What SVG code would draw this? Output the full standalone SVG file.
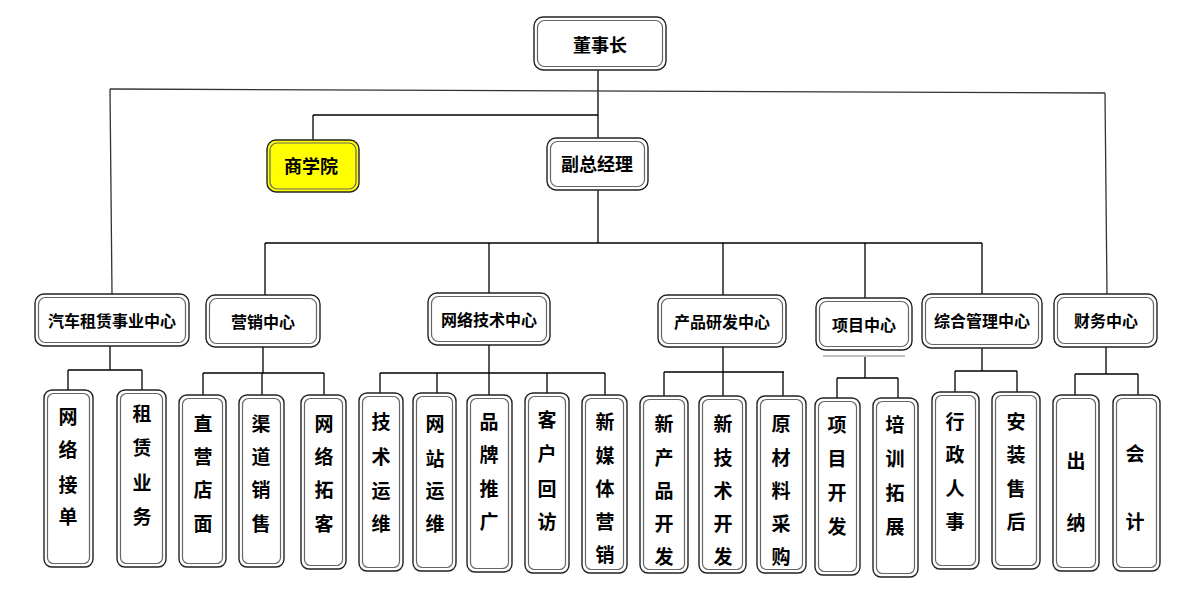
<svg xmlns="http://www.w3.org/2000/svg" width="1200" height="597" viewBox="0 0 1200 597">
<style>
.o{fill:#fff;stroke:#222;stroke-width:1.4}
.i{fill:none;stroke:#666;stroke-width:1.2}
.y{fill:#ffff00}
.c line{stroke:#000;stroke-width:1.3}
text{font-family:"Noto Sans CJK SC","Noto Sans",sans-serif;fill:#000;text-anchor:middle;dominant-baseline:central}
.t1{font-size:18px;font-weight:bold}
.t2{font-size:16px;font-weight:bold}
.t3{font-size:19px;font-weight:bold}
</style>
<rect width="1200" height="597" fill="#fff"/>
<g class="c" id="connectors">
<line x1="598" y1="70" x2="598" y2="138"/>
<line x1="110" y1="89" x2="1105" y2="93" style="stroke:#333"/>
<line x1="110" y1="89" x2="112" y2="294" style="stroke:#333"/>
<line x1="1105" y1="93" x2="1107" y2="294" style="stroke:#333"/>
<line x1="313" y1="115" x2="598" y2="115"/>
<line x1="313" y1="115" x2="313" y2="140"/>
<line x1="598" y1="190" x2="598" y2="243"/>
<line x1="265" y1="243" x2="982" y2="243"/>
<line x1="265" y1="243" x2="265" y2="295"/>
<line x1="489" y1="243" x2="489" y2="293"/>
<line x1="723" y1="243" x2="723" y2="295"/>
<line x1="865" y1="243" x2="865" y2="298"/>
<line x1="982" y1="243" x2="982" y2="294"/>
<line x1="823" y1="356" x2="905" y2="356" style="stroke:#aaa"/>
<line x1="110" y1="346" x2="110" y2="370"/>
<line x1="68" y1="370" x2="142" y2="370"/>
<line x1="68" y1="370" x2="68" y2="390"/>
<line x1="142" y1="370" x2="142" y2="390"/>
<line x1="263" y1="347" x2="263" y2="373"/>
<line x1="203" y1="373" x2="324" y2="373"/>
<line x1="203" y1="373" x2="203" y2="395"/>
<line x1="262" y1="373" x2="262" y2="395"/>
<line x1="324" y1="373" x2="324" y2="395"/>
<line x1="489" y1="345" x2="489" y2="395"/>
<line x1="380" y1="373" x2="605" y2="373"/>
<line x1="380" y1="373" x2="380" y2="393"/>
<line x1="437" y1="373" x2="437" y2="393"/>
<line x1="547" y1="373" x2="547" y2="393"/>
<line x1="605" y1="373" x2="605" y2="395"/>
<line x1="723" y1="347" x2="723" y2="396"/>
<line x1="664" y1="372" x2="784" y2="372"/>
<line x1="664" y1="372" x2="664" y2="396"/>
<line x1="783" y1="372" x2="783" y2="396"/>
<line x1="865" y1="357" x2="865" y2="378"/>
<line x1="837" y1="378" x2="898" y2="378"/>
<line x1="837" y1="378" x2="837" y2="398"/>
<line x1="898" y1="378" x2="898" y2="398"/>
<line x1="982" y1="348" x2="982" y2="371"/>
<line x1="955" y1="371" x2="1017" y2="371"/>
<line x1="955" y1="371" x2="955" y2="392"/>
<line x1="1017" y1="371" x2="1017" y2="392"/>
<line x1="1106" y1="347" x2="1106" y2="374"/>
<line x1="1075" y1="374" x2="1138" y2="374"/>
<line x1="1075" y1="374" x2="1075" y2="395"/>
<line x1="1138" y1="374" x2="1138" y2="395"/>
</g>
<g id="n-dongshizhang"><rect class="o" x="534" y="17" width="132" height="53" rx="9"/><rect class="i" x="537.5" y="20.5" width="125" height="46" rx="7"/><text class="t1" x="600" y="44">董事长</text></g>
<g id="n-shangxueyuan"><rect class="o y" x="267" y="140" width="92" height="52" rx="9"/><rect class="i" x="270" y="143" width="86" height="46" rx="7"/><text class="t1" x="311" y="165">商学院</text></g>
<g id="n-fuzongjingli"><rect class="o" x="547" y="138" width="101" height="52" rx="9"/><rect class="i" x="550.5" y="141.5" width="94" height="45" rx="7"/><text class="t1" x="597" y="163">副总经理</text></g>

<g id="n-qiche"><rect class="o" x="35" y="294" width="154" height="52" rx="9"/><rect class="i" x="38.5" y="297.5" width="147" height="45" rx="7"/><text class="t2" x="112" y="320">汽车租赁事业中心</text></g>
<g id="n-yingxiao"><rect class="o" x="206" y="295" width="114" height="52" rx="9"/><rect class="i" x="209.5" y="298.5" width="107" height="45" rx="7"/><text class="t2" x="263" y="321">营销中心</text></g>
<g id="n-wangluo"><rect class="o" x="428" y="293" width="122" height="52" rx="9"/><rect class="i" x="431.5" y="296.5" width="115" height="45" rx="7"/><text class="t2" x="489" y="319">网络技术中心</text></g>
<g id="n-chanpin"><rect class="o" x="658" y="295" width="128" height="52" rx="9"/><rect class="i" x="661.5" y="298.5" width="121" height="45" rx="7"/><text class="t2" x="722" y="321">产品研发中心</text></g>
<g id="n-xiangmu"><rect class="o" x="816" y="298" width="96" height="52" rx="9"/><rect class="i" x="819.5" y="301.5" width="89" height="45" rx="7"/><text class="t2" x="864" y="324">项目中心</text></g>
<g id="n-zonghe"><rect class="o" x="922" y="294" width="120" height="54" rx="9"/><rect class="i" x="925.5" y="297.5" width="113" height="47" rx="7"/><text class="t2" x="982" y="320">综合管理中心</text></g>
<g id="n-caiwu"><rect class="o" x="1054" y="294" width="103" height="53" rx="9"/><rect class="i" x="1057.5" y="297.5" width="96" height="46" rx="7"/><text class="t2" x="1106" y="320">财务中心</text></g>

<g id="n-wljd"><rect class="o" x="44" y="390" width="49" height="177" rx="8"/><rect class="i" x="47.5" y="393.5" width="42" height="170" rx="6"/><text class="t3" x="68" y="415">网</text><text class="t3" x="68" y="448">络</text><text class="t3" x="68" y="483">接</text><text class="t3" x="68" y="515">单</text></g>
<g id="n-zlyw"><rect class="o" x="117" y="390" width="49" height="177" rx="8"/><rect class="i" x="120.5" y="393.5" width="42" height="170" rx="6"/><text class="t3" x="142" y="412">租</text><text class="t3" x="142" y="446">赁</text><text class="t3" x="142" y="481">业</text><text class="t3" x="142" y="515">务</text></g>
<g id="n-zydm"><rect class="o" x="179" y="395" width="47" height="172" rx="8"/><rect class="i" x="182.5" y="398.5" width="40" height="165" rx="6"/><text class="t3" x="203" y="422">直</text><text class="t3" x="203" y="455">营</text><text class="t3" x="203" y="488">店</text><text class="t3" x="203" y="522">面</text></g>
<g id="n-qdxs"><rect class="o" x="239" y="395" width="45" height="172" rx="8"/><rect class="i" x="242.5" y="398.5" width="38" height="165" rx="6"/><text class="t3" x="261" y="422">渠</text><text class="t3" x="261" y="455">道</text><text class="t3" x="261" y="488">销</text><text class="t3" x="261" y="522">售</text></g>
<g id="n-wltk"><rect class="o" x="301" y="395" width="45" height="174" rx="8"/><rect class="i" x="304.5" y="398.5" width="38" height="167" rx="6"/><text class="t3" x="324" y="422">网</text><text class="t3" x="324" y="455">络</text><text class="t3" x="324" y="488">拓</text><text class="t3" x="324" y="522">客</text></g>
<g id="n-jsyw"><rect class="o" x="359" y="393" width="44" height="178" rx="8"/><rect class="i" x="362.5" y="396.5" width="37" height="171" rx="6"/><text class="t3" x="381" y="420">技</text><text class="t3" x="381" y="455">术</text><text class="t3" x="381" y="489">运</text><text class="t3" x="381" y="522">维</text></g>
<g id="n-wzyw"><rect class="o" x="413" y="393" width="43" height="178" rx="8"/><rect class="i" x="416.5" y="396.5" width="36" height="171" rx="6"/><text class="t3" x="435" y="422">网</text><text class="t3" x="435" y="457">站</text><text class="t3" x="435" y="489">运</text><text class="t3" x="435" y="522">维</text></g>
<g id="n-pptg"><rect class="o" x="467" y="395" width="45" height="177" rx="8"/><rect class="i" x="470.5" y="398.5" width="38" height="170" rx="6"/><text class="t3" x="489" y="420">品</text><text class="t3" x="489" y="453">牌</text><text class="t3" x="489" y="487">推</text><text class="t3" x="489" y="520">广</text></g>
<g id="n-khhf"><rect class="o" x="525" y="393" width="44" height="180" rx="8"/><rect class="i" x="528.5" y="396.5" width="37" height="173" rx="6"/><text class="t3" x="547" y="418">客</text><text class="t3" x="547" y="452">户</text><text class="t3" x="547" y="487">回</text><text class="t3" x="547" y="520">访</text></g>
<g id="n-xmtyx"><rect class="o" x="582" y="395" width="45" height="178" rx="8"/><rect class="i" x="585.5" y="398.5" width="38" height="171" rx="6"/><text class="t3" x="605" y="420">新</text><text class="t3" x="605" y="454">媒</text><text class="t3" x="605" y="487">体</text><text class="t3" x="605" y="520">营</text><text class="t3" x="605" y="553">销</text></g>
<g id="n-xcpkf"><rect class="o" x="640" y="396" width="48" height="177" rx="8"/><rect class="i" x="643.5" y="399.5" width="41" height="170" rx="6"/><text class="t3" x="664" y="422">新</text><text class="t3" x="664" y="456">产</text><text class="t3" x="664" y="489">品</text><text class="t3" x="664" y="522">开</text><text class="t3" x="664" y="555">发</text></g>
<g id="n-xjskf"><rect class="o" x="699" y="396" width="47" height="177" rx="8"/><rect class="i" x="702.5" y="399.5" width="40" height="170" rx="6"/><text class="t3" x="723" y="422">新</text><text class="t3" x="723" y="456">技</text><text class="t3" x="723" y="489">术</text><text class="t3" x="723" y="522">开</text><text class="t3" x="723" y="555">发</text></g>
<g id="n-yclcg"><rect class="o" x="757" y="396" width="49" height="177" rx="8"/><rect class="i" x="760.5" y="399.5" width="42" height="170" rx="6"/><text class="t3" x="781" y="422">原</text><text class="t3" x="781" y="456">材</text><text class="t3" x="781" y="489">料</text><text class="t3" x="781" y="522">采</text><text class="t3" x="781" y="555">购</text></g>
<g id="n-xmkf"><rect class="o" x="815" y="398" width="45" height="177" rx="8"/><rect class="i" x="818.5" y="401.5" width="38" height="170" rx="6"/><text class="t3" x="837" y="423">项</text><text class="t3" x="837" y="457">目</text><text class="t3" x="837" y="491">开</text><text class="t3" x="837" y="525">发</text></g>
<g id="n-pxtz"><rect class="o" x="873" y="398" width="45" height="179" rx="8"/><rect class="i" x="876.5" y="401.5" width="38" height="172" rx="6"/><text class="t3" x="895" y="423">培</text><text class="t3" x="895" y="457">训</text><text class="t3" x="895" y="491">拓</text><text class="t3" x="895" y="525">展</text></g>
<g id="n-xzrs"><rect class="o" x="932" y="392" width="47" height="177" rx="8"/><rect class="i" x="935.5" y="395.5" width="40" height="170" rx="6"/><text class="t3" x="955" y="420">行</text><text class="t3" x="955" y="453">政</text><text class="t3" x="955" y="487">人</text><text class="t3" x="955" y="520">事</text></g>
<g id="n-azsh"><rect class="o" x="992" y="392" width="48" height="177" rx="8"/><rect class="i" x="995.5" y="395.5" width="41" height="170" rx="6"/><text class="t3" x="1016" y="420">安</text><text class="t3" x="1016" y="453">装</text><text class="t3" x="1016" y="487">售</text><text class="t3" x="1016" y="520">后</text></g>
<g id="n-cn"><rect class="o" x="1053" y="395" width="46" height="176" rx="8"/><rect class="i" x="1056.5" y="398.5" width="39" height="169" rx="6"/><text class="t3" x="1076" y="459">出</text><text class="t3" x="1076" y="521">纳</text></g>
<g id="n-kj"><rect class="o" x="1113" y="395" width="47" height="176" rx="8"/><rect class="i" x="1116.5" y="398.5" width="40" height="169" rx="6"/><text class="t3" x="1135" y="452">会</text><text class="t3" x="1135" y="520">计</text></g>
</svg>
